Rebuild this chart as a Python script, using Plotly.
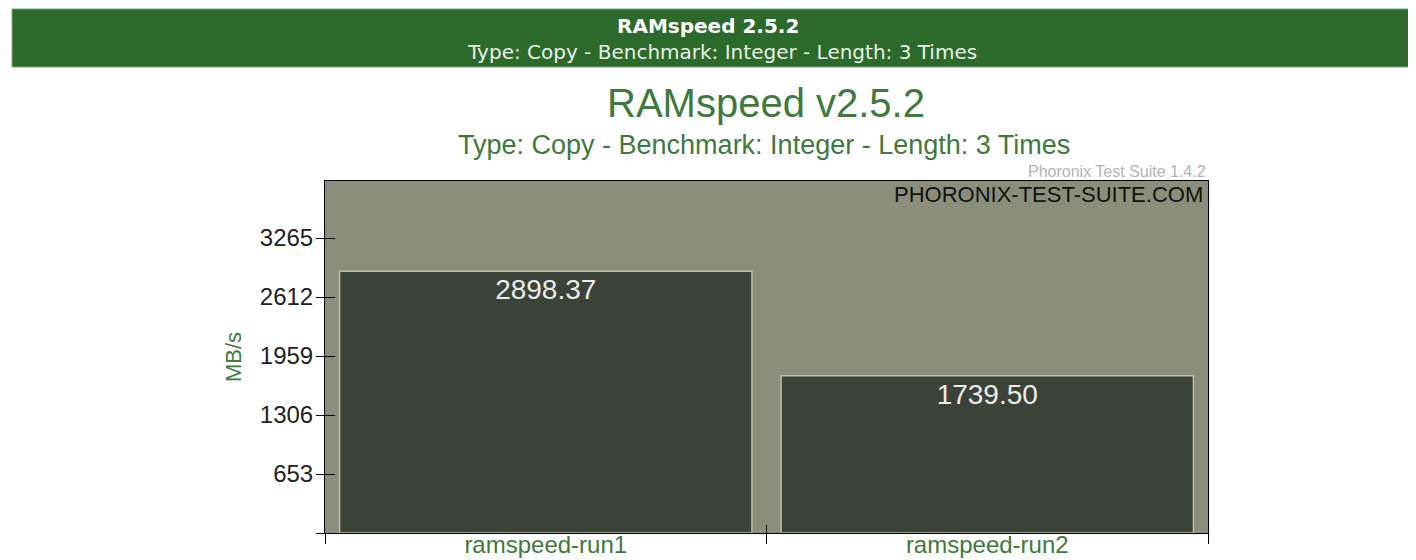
import plotly.graph_objects as go

categories = ["ramspeed-run1", "ramspeed-run2"]
values = [2898.37, 1739.50]
value_labels = ["2898.37", "1739.50"]
tick_vals = [653, 1306, 1959, 2612, 3265]
tick_text = ["653", "1306", "1959", "2612", "3265"]
y_max = 3896

OFF = 8  # page body margin
W, H = 1416 - OFF, 560 - OFF
L, T = 325 - OFF, 181 - OFF
pw, ph = 883, 352
R, B = W - L - pw, H - T - ph

def px(x):
    return (x - OFF - L) / pw

def py(y):
    return (T + ph - (y - OFF)) / ph

GREEN = "#2b6a2a"
TGREEN = "#3d7a3b"
FONT = "Liberation Sans, Arial, sans-serif"

n = len(categories)
bounds = [i - 0.5 for i in range(n + 1)]
ytick_marks = [0] + tick_vals

fig = go.Figure()
fig.add_trace(go.Bar(
    x=categories, y=values, text=value_labels,
    textposition="inside", insidetextanchor="end",
    textfont=dict(size=28, color="#ececec", family=FONT),
    marker=dict(color="#3b4238", line=dict(color="#b9c1a9", width=1.5)),
    cliponaxis=False, showlegend=False, hoverinfo="skip",
))
# invisible traces to activate the overlay axes that draw crossing tick marks
for xa, ya in (("x2", "y2"), ("x3", "y3")):
    fig.add_trace(go.Scatter(x=[0], y=[values[0]], xaxis=xa, yaxis=ya, mode="markers",
                             marker=dict(opacity=0), showlegend=False, hoverinfo="skip"))

tick_common = dict(tickcolor="black", tickwidth=1, showticklabels=False, showgrid=False,
                   zeroline=False, showline=False, automargin=False)

fig.update_layout(
    width=W, height=H, autosize=False,
    margin=dict(l=L, r=R, t=T, b=B, pad=0),
    paper_bgcolor="white", plot_bgcolor="#8b8e7a",
    bargap=0.066,
    font=dict(family=FONT, color="#222222"),
    xaxis=dict(
        type="category", ticks="", showline=True, linecolor="black",
        linewidth=1, mirror=True, showgrid=False, automargin=False,
        categoryorder="array", categoryarray=categories, ticklabelstandoff=-10,
        tickfont=dict(size=24, color=TGREEN, family=FONT),
    ),
    xaxis2=dict(overlaying="x", anchor="y", side="bottom", range=[bounds[0], bounds[-1]],
                tickvals=bounds, ticks="outside", ticklen=10, **tick_common),
    xaxis3=dict(overlaying="x", anchor="y", side="bottom", range=[bounds[0], bounds[-1]],
                tickvals=bounds, ticks="inside", ticklen=8, **tick_common),
    yaxis=dict(
        range=[0, y_max], tickvals=tick_vals, ticktext=tick_text,
        ticks="", ticklabelstandoff=6,
        showline=True, linecolor="black", linewidth=1, mirror=True,
        showgrid=False, zeroline=False, automargin=False,
        tickfont=dict(size=24, color="#222222", family=FONT),
        title=dict(text="MB/s", font=dict(size=22, color=TGREEN, family=FONT), standoff=12),
    ),
    yaxis2=dict(overlaying="y", anchor="x", side="left", range=[0, y_max],
                tickvals=ytick_marks, ticks="outside", ticklen=8, **tick_common),
    yaxis3=dict(overlaying="y", anchor="x", side="left", range=[0, y_max],
                tickvals=tick_vals, ticks="inside", ticklen=10, **tick_common),
)

fig.add_shape(type="rect", xref="paper", yref="paper",
              x0=px(12), x1=px(1420), y0=py(67), y1=py(9),
              fillcolor=GREEN, line=dict(color="#7fa87d", width=1), layer="below")

anns = [
    dict(text="<b>RAMspeed 2.5.2</b>", x=px(708), y=py(26), size=20, color="white",
         family="DejaVu Sans, sans-serif", xanchor="center"),
    dict(text="Type: Copy - Benchmark: Integer - Length: 3 Times", x=px(722), y=py(52), size=20,
         color="#e8f0e8", family="DejaVu Sans, sans-serif", xanchor="center"),
    dict(text="RAMspeed v2.5.2", x=px(766), y=py(103), size=40, color=TGREEN, family=FONT,
         xanchor="center"),
    dict(text="Type: Copy - Benchmark: Integer - Length: 3 Times", x=px(764), y=py(145), size=27,
         color=TGREEN, family=FONT, xanchor="center"),
    dict(text="Phoronix Test Suite 1.4.2", x=px(1208), y=py(172), size=16, color="#b4b4b4",
         family=FONT, xanchor="right"),
    dict(text="PHORONIX-TEST-SUITE.COM", x=px(1205), y=py(194), size=22, color="#111111",
         family=FONT, xanchor="right"),
]
for a in anns:
    fig.add_annotation(text=a["text"], x=a["x"], y=a["y"], xref="paper", yref="paper",
                       xanchor=a["xanchor"], yanchor="middle", showarrow=False,
                       font=dict(size=a["size"], color=a["color"], family=a["family"]))

fig.write_html("out.html")
